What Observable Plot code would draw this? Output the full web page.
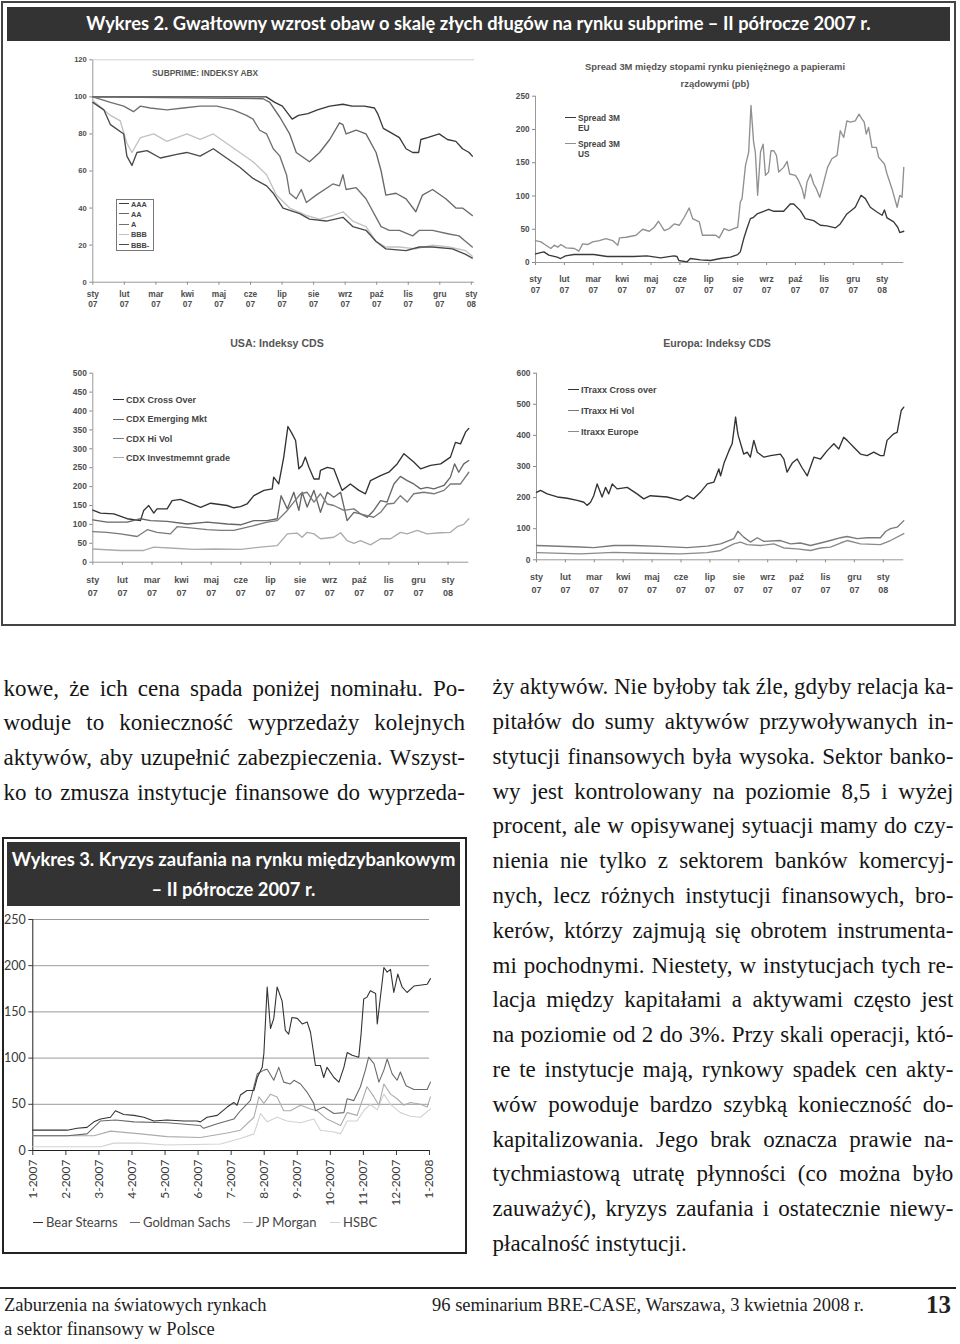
<!DOCTYPE html>
<html><head><meta charset="utf-8">
<script src="https://cdn.jsdelivr.net/npm/d3@7"></script>
<script src="https://cdn.jsdelivr.net/npm/@observablehq/plot@0.6"></script>
<style>
body{margin:0;background:#fff;}
#page{position:relative;width:960px;height:1344px;overflow:hidden;background:#fff;}
.box{position:absolute;box-sizing:border-box;}
.bar{position:absolute;background:#333;color:#fff;font-family:Lato,sans-serif;font-weight:bold;text-align:center;white-space:nowrap;}
.ct{position:absolute;font-family:"Liberation Sans",Arial,sans-serif;font-weight:bold;color:#555;white-space:nowrap;text-align:center;}
.lg{position:absolute;font-family:"Liberation Sans",Arial,sans-serif;font-weight:bold;color:#555;white-space:nowrap;}
.sw{display:inline-block;width:11px;height:0;border-top:1.5px solid;vertical-align:middle;margin-right:2px;position:relative;top:-1px;}
.ln{position:absolute;font-family:"Liberation Serif",serif;font-size:23px;line-height:34.8px;color:#151515;white-space:nowrap;}
.ft{position:absolute;font-family:"Liberation Serif",serif;color:#222;white-space:nowrap;}
.w3lg{position:absolute;font-family:Lato,sans-serif;font-size:13px;color:#444;white-space:nowrap;}
</style></head><body><div id="page"></div>
<script>
// ---------- categories / ticks ----------
const monthTicks = [0,1,2,3,4,5,6,7,8,9,10,11,12];
const monthNames = ["sty","lut","mar","kwi","maj","cze","lip","sie","wrz","paź","lis","gru","sty"];
const monthYears = ["07","07","07","07","07","07","07","07","07","07","07","07","08"];
const w3Labels = ["1-2007","2-2007","3-2007","4-2007","5-2007","6-2007","7-2007","8-2007","9-2007","10-2007","11-2007","12-2007","1-2008"];
const abxTicks = [0,20,40,60,80,100,120];
const spreadTicks = [0,50,100,150,200,250];
const usaTicks = [0,50,100,150,200,250,300,350,400,450,500];
const euTicks = [0,100,200,300,400,500,600];
const w3Ticks = [0,50,100,150,200,250];

// ---------- series: [months since Jan 2007, value] ----------
const abxAAA = [[0,100],[5.5,100],[5.77,97],[6.01,95],[6.32,88],[6.52,90],[6.82,91],[7.12,93],[7.51,95],[7.93,96],[8.22,95],[8.61,95],[8.93,94],[9.03,91],[9.21,83],[9.42,81],[9.72,78],[9.93,72],[10.14,70],[10.33,70],[10.4,77],[10.61,78],[10.98,80],[11.24,77],[11.51,76],[11.72,72],[11.93,70],[12.03,68]];
const abxAA = [[0,100],[5.4,99],[5.61,97],[5.93,89],[6.24,80],[6.45,70],[6.87,65],[7.19,70],[7.51,77],[7.82,86],[7.93,85],[8.03,80],[8.35,82],[8.66,80],[8.98,70],[9.14,60],[9.29,47],[9.61,48],[9.93,45],[10.24,38],[10.45,47],[10.77,50],[11.19,45],[11.51,40],[11.72,40],[12.03,36]];
const abxA = [[0,100],[0.56,97],[0.98,95],[1.29,92],[1.51,95],[1.82,94],[2.35,93],[2.87,94],[3.4,95],[3.93,95],[4.45,93],[4.87,90],[5.08,88],[5.29,82],[5.51,80],[5.72,72],[5.93,68],[6.14,58],[6.24,48],[6.45,45],[6.61,50],[6.77,43],[7.08,47],[7.61,53],[7.82,52],[7.93,58],[8.03,50],[8.35,51],[8.66,45],[8.98,35],[9.14,30],[9.4,28],[9.72,28],[10.14,25],[10.35,28],[10.77,28],[11.29,26],[11.61,25],[11.82,22],[12.03,19]];
const abxBBB = [[0,98],[0.56,90],[0.87,87],[1.08,75],[1.24,70],[1.51,78],[1.93,80],[2.35,76],[2.98,80],[3.4,77],[3.82,80],[4.24,75],[4.66,70],[5.08,65],[5.51,58],[5.82,47],[6.24,40],[6.77,36],[7.19,34],[7.61,36],[7.93,38],[8.24,33],[8.66,30],[8.98,22],[9.29,19],[9.72,19],[10.24,18],[10.77,20],[11.29,19],[11.82,17],[12.03,14]];
const abxBBBm = [[0,97],[0.35,93],[0.56,85],[0.98,80],[1.08,68],[1.24,63],[1.4,70],[1.72,71],[2.14,67],[2.66,69],[2.98,70],[3.4,68],[3.82,72],[4.24,67],[4.66,62],[5.08,56],[5.51,52],[5.72,48],[6.03,40],[6.56,37],[6.87,34],[7.4,33],[7.93,35],[8.24,30],[8.66,28],[8.98,22],[9.29,18],[9.93,17],[10.35,19],[10.77,19],[11.4,18],[11.82,15],[12.03,13]];

const spreadEU = [[0,13],[0.29,16],[0.46,11],[0.75,8],[0.87,6],[1.04,10],[1.33,12],[2.02,12],[2.48,9],[3.4,9],[3.86,10],[4.33,7],[4.79,10],[4.9,9],[4.96,3],[5.25,1],[5.36,6],[5.71,4],[6.06,3],[6.4,6],[6.75,8],[7.0,12],[7.09,16],[7.21,36],[7.32,51],[7.44,66],[7.55,68],[7.67,73],[7.9,77],[8.07,80],[8.25,77],[8.59,77],[8.82,88],[8.94,88],[9.17,78],[9.34,66],[9.63,63],[9.86,56],[10.09,55],[10.38,52],[10.55,58],[10.78,73],[11.07,83],[11.27,101],[11.42,96],[11.59,83],[11.82,76],[12.0,71],[12.08,79],[12.17,67],[12.4,61],[12.54,53],[12.61,45],[12.75,47]];
const spreadUS = [[0,33],[0.19,31],[0.36,26],[0.53,21],[0.65,26],[0.77,23],[0.88,27],[1.06,22],[1.35,21],[1.5,17],[1.63,28],[1.8,27],[1.98,31],[2.21,33],[2.44,36],[2.67,33],[2.85,26],[2.91,37],[3.14,38],[3.48,41],[3.71,50],[3.94,47],[4.11,53],[4.26,62],[4.46,48],[4.63,51],[4.8,58],[4.98,56],[5.15,68],[5.32,82],[5.44,66],[5.67,61],[5.78,41],[6.01,41],[6.24,41],[6.36,37],[6.53,51],[6.7,48],[6.86,51],[7.0,53],[7.09,91],[7.15,96],[7.27,146],[7.38,166],[7.46,236],[7.55,181],[7.61,166],[7.69,101],[7.79,166],[7.88,178],[7.96,131],[8.07,136],[8.15,168],[8.25,168],[8.34,161],[8.42,136],[8.59,143],[8.71,152],[8.8,133],[9.0,131],[9.11,123],[9.23,111],[9.31,96],[9.4,121],[9.52,133],[9.63,118],[9.72,111],[9.84,98],[9.95,116],[10.11,143],[10.26,156],[10.44,161],[10.55,198],[10.67,188],[10.78,213],[10.9,211],[11.07,213],[11.2,223],[11.3,216],[11.38,211],[11.45,193],[11.53,203],[11.65,173],[11.8,173],[11.88,158],[12.08,148],[12.17,133],[12.34,111],[12.52,83],[12.61,101],[12.69,98],[12.75,143]];

const usaCross = [[0,138],[0.26,130],[0.71,128],[1.16,115],[1.61,110],[1.72,137],[1.89,150],[2.06,130],[2.17,141],[2.51,141],[2.68,163],[2.96,166],[3.41,152],[3.64,145],[3.98,156],[4.54,150],[4.76,144],[4.99,147],[5.21,154],[5.44,176],[5.78,190],[6.06,194],[6.11,225],[6.28,207],[6.45,278],[6.59,359],[6.73,340],[6.85,322],[6.96,247],[7.07,256],[7.18,278],[7.3,251],[7.47,220],[7.64,220],[7.69,243],[7.92,251],[8.14,247],[8.25,225],[8.42,190],[8.7,207],[8.99,190],[9.21,181],[9.38,216],[9.72,229],[10.0,238],[10.28,260],[10.51,287],[10.84,265],[11.07,247],[11.41,256],[11.75,260],[12.08,278],[12.25,317],[12.42,313],[12.59,344],[12.7,354]];
const usaEM = [[0,112],[0.48,106],[1.16,106],[1.61,115],[1.95,110],[2.51,108],[3.19,101],[3.86,106],[4.54,101],[4.99,99],[5.44,110],[5.89,110],[6.23,115],[6.36,176],[6.57,141],[6.79,185],[6.96,137],[7.07,185],[7.24,146],[7.47,190],[7.69,132],[7.92,185],[8.14,172],[8.37,185],[8.59,110],[8.82,132],[9.04,128],[9.27,119],[9.49,137],[9.72,163],[9.94,159],[10.17,207],[10.39,227],[10.62,216],[10.84,207],[11.07,194],[11.29,198],[11.52,194],[11.86,203],[12.08,225],[12.22,260],[12.36,238],[12.53,260],[12.7,269]];
const usaHiVol = [[0,81],[0.48,79],[0.93,75],[1.5,68],[1.84,86],[2.17,79],[2.62,75],[2.85,94],[3.3,91],[3.86,86],[4.31,84],[4.76,84],[5.44,97],[5.89,106],[6.23,110],[6.57,137],[6.79,159],[7.02,181],[7.24,185],[7.47,159],[7.69,181],[7.92,154],[8.14,150],[8.48,137],[8.82,141],[9.04,128],[9.27,123],[9.49,119],[9.72,132],[9.94,154],[10.17,156],[10.39,176],[10.62,159],[10.84,181],[11.18,185],[11.52,181],[11.86,190],[12.08,207],[12.42,207],[12.7,238]];
const usaIG = [[0,35],[0.93,31],[1.72,31],[2.06,40],[2.74,37],[3.41,34],[4.09,35],[4.99,34],[5.66,40],[6.23,44],[6.57,75],[6.9,77],[7.07,66],[7.24,79],[7.47,75],[7.69,62],[8.14,66],[8.37,78],[8.59,57],[8.82,50],[9.04,57],[9.38,46],[9.72,62],[10.06,62],[10.39,79],[10.62,75],[10.96,84],[11.29,75],[11.75,78],[12.08,79],[12.31,94],[12.53,100],[12.7,115]];

const euCross = [[0,217],[0.14,223],[0.37,212],[0.72,202],[1.06,198],[1.41,191],[1.64,185],[1.75,175],[1.87,185],[1.98,206],[2.1,244],[2.27,202],[2.39,233],[2.5,212],[2.62,244],[2.79,228],[3.14,233],[3.48,212],[3.71,196],[3.94,206],[4.52,202],[4.98,191],[5.21,206],[5.44,196],[5.67,217],[5.91,244],[6.14,250],[6.31,292],[6.37,270],[6.49,311],[6.66,351],[6.77,373],[6.89,459],[6.95,416],[6.98,400],[7.17,340],[7.29,346],[7.4,330],[7.52,384],[7.64,346],[7.87,330],[8.1,335],[8.44,340],[8.56,324],[8.67,282],[8.85,311],[9.02,324],[9.19,296],[9.37,270],[9.6,330],[9.83,324],[10.06,351],[10.29,373],[10.46,356],[10.63,394],[10.75,384],[10.98,362],[11.21,340],[11.44,335],[11.67,346],[11.9,335],[12.02,335],[12.13,384],[12.36,405],[12.48,410],[12.62,480],[12.71,491]];
const euHiVol = [[0,46],[1.52,41],[1.98,39],[2.68,46],[3.37,46],[4.29,43],[5.21,39],[5.91,44],[6.37,51],[6.83,68],[6.97,92],[7.17,73],[7.4,57],[7.64,71],[7.87,59],[8.44,62],[8.79,51],[9.13,54],[9.48,46],[9.83,54],[10.17,62],[10.52,71],[10.75,75],[11.1,68],[11.44,71],[11.9,71],[12.08,91],[12.25,100],[12.48,105],[12.71,126]];
const euMain = [[0,23],[1.52,19],[2.68,24],[3.83,21],[4.98,19],[5.91,23],[6.37,30],[6.83,51],[7.06,57],[7.29,49],[7.75,46],[8.21,51],[8.56,38],[9.02,35],[9.48,30],[9.83,38],[10.17,41],[10.52,54],[10.75,62],[11.21,51],[11.9,49],[12.25,62],[12.71,84]];

const w3Bear = [[0,22],[1.04,22],[1.34,24],[1.64,25],[1.85,31],[2.05,34],[2.35,36],[2.5,43],[2.75,39],[3.06,38],[3.36,36],[3.66,32],[4.06,33],[4.57,32],[4.97,32],[5.07,31],[5.27,36],[5.58,38],[5.88,47],[6.08,52],[6.18,49],[6.28,60],[6.48,65],[6.69,65],[6.79,79],[6.94,90],[6.99,105],[7.09,177],[7.19,132],[7.29,143],[7.39,177],[7.54,162],[7.64,130],[7.74,126],[7.84,144],[8.0,143],[8.15,137],[8.3,139],[8.4,128],[8.55,92],[8.7,92],[8.8,79],[8.9,90],[9.11,79],[9.26,74],[9.41,90],[9.51,106],[9.66,103],[9.86,101],[9.93,126],[10.01,164],[10.11,166],[10.21,173],[10.37,170],[10.42,137],[10.62,198],[10.72,193],[10.82,196],[10.92,171],[11.04,191],[11.17,177],[11.32,171],[11.53,178],[11.93,180],[12.03,186]];
const w3Goldman = [[0,16],[1.04,16],[1.64,18],[2.05,32],[2.5,33],[3.06,31],[4.06,30],[5.07,27],[5.17,24],[5.58,29],[6.08,34],[6.28,43],[6.58,54],[6.79,83],[6.99,87],[7.09,88],[7.29,76],[7.44,90],[7.59,74],[7.79,72],[7.9,76],[8.1,72],[8.3,63],[8.5,51],[8.55,43],[8.8,47],[9.11,40],[9.41,41],[9.51,56],[9.71,54],[9.91,69],[10.06,87],[10.16,101],[10.32,94],[10.47,74],[10.62,87],[10.72,99],[10.87,83],[11.02,76],[11.12,85],[11.29,70],[11.53,66],[11.93,66],[12.03,74]];
const w3JPM = [[0,16],[1.85,16],[2.35,21],[3.26,18],[4.06,15],[5.07,14],[5.88,19],[6.28,22],[6.69,36],[6.84,58],[6.99,51],[7.19,61],[7.39,58],[7.59,43],[7.79,43],[8.1,49],[8.4,45],[8.6,43],[8.9,34],[9.31,27],[9.51,41],[9.81,38],[10.11,69],[10.32,58],[10.47,49],[10.62,72],[10.82,61],[11.02,56],[11.22,49],[11.42,52],[11.73,50],[11.93,47],[12.03,58]];
const w3HSBC = [[0,4],[2.05,4],[2.45,8],[3.26,8],[4.06,6],[5.68,7],[6.28,13],[6.69,18],[6.89,40],[7.09,31],[7.39,36],[7.69,32],[8.1,30],[8.5,34],[8.7,22],[9.11,20],[9.31,18],[9.51,32],[9.81,32],[10.01,43],[10.21,50],[10.42,44],[10.62,61],[10.82,50],[11.12,41],[11.42,37],[11.73,36],[12.03,45]];

// ---------- names & colours ----------
const abxNames = ["AAA","AA","A","BBB","BBB-"];
const abxColors = ["#3a3a3a","#686868","#707070","#c2c2c2","#4a4a4a"];
const spreadColors = ["#3a3a3a","#909090"];
const usaNames = ["CDX Cross Over","CDX Emerging Mkt","CDX Hi Vol","CDX Investmemnt grade"];
const usaColors = ["#333","#666","#7a7a7a","#ababab"];
const euNames = ["ITraxx Cross over","ITraxx Hi Vol","Itraxx Europe"];
const euColors = ["#333","#7a7a7a","#8a8a8a"];
const w3Names = ["Bear Stearns","Goldman Sachs","JP Morgan","HSBC"];
const w3Colors = ["#333","#6a6a6a","#ababab","#d2d2d2"];

const leftLines = [
 "kowe, że ich cena spada poniżej nominału. Po-",
 "woduje to konieczność wyprzedaży kolejnych",
 "aktywów, aby uzupełnić zabezpieczenia. Wszyst-",
 "ko to zmusza instytucje finansowe do wyprzeda-"];
const rightLines = [
 "ży aktywów. Nie byłoby tak źle, gdyby relacja ka-",
 "pitałów do sumy aktywów przywoływanych in-",
 "stytucji finansowych była wysoka. Sektor banko-",
 "wy jest kontrolowany na poziomie 8,5 i wyżej",
 "procent, ale w opisywanej sytuacji mamy do czy-",
 "nienia nie tylko z sektorem banków komercyj-",
 "nych, lecz różnych instytucji finansowych, bro-",
 "kerów, którzy zajmują się obrotem instrumenta-",
 "mi pochodnymi. Niestety, w instytucjach tych re-",
 "lacja między kapitałami a aktywami często jest",
 "na poziomie od 2 do 3%. Przy skali operacji, któ-",
 "re te instytucje mają, rynkowy spadek cen akty-",
 "wów powoduje bardzo szybką konieczność do-",
 "kapitalizowania. Jego brak oznacza prawie na-",
 "tychmiastową utratę płynności (co można było",
 "zauważyć), kryzys zaufania i ostatecznie niewy-",
 "płacalność instytucji."];

// ---------- page helpers ----------
const page = document.getElementById("page");
function el(cls, css, html){ const d=document.createElement("div"); d.className=cls; d.style.cssText=css; if(html!==undefined) d.innerHTML=html; page.appendChild(d); return d; }
function place(svg,left,top){ svg.style.position="absolute"; svg.style.left=left+"px"; svg.style.top=top+"px"; svg.style.background="transparent"; page.appendChild(svg); }

// ---------- frames ----------
el("box","left:1px;top:1px;width:955px;height:625px;border:2px solid #444;");
el("bar","left:7px;top:7px;width:943px;height:34px;line-height:33px;font-size:18.3px;",
   "Wykres 2. Gwałtowny wzrost obaw o skalę złych długów na rynku subprime – II półrocze 2007 r.");

// ---------- top charts ----------
function topChart(o){
  const marks = [
    Plot.axisY({ticks:o.yTicks, tickSize:3, tickPadding:3, fontSize:o.yFont, stroke:"#888", label:null}),
    Plot.axisX({ticks:monthTicks, tickSize:3, tickPadding:o.xPad, lineHeight:o.lh, fontSize:o.xFont,
      tickFormat:i=>monthNames[i]+"\n"+monthYears[i], stroke:"#888", label:null}),
    Plot.ruleY([o.yTicks[0]], {stroke:"#999"}),
    Plot.ruleX([monthTicks[0]], {stroke:"#999"})
  ];
  if(o.topRule) marks.push(Plot.ruleY([o.yTicks[o.yTicks.length-1]], {stroke:"#d0d0d0"}));
  o.series.forEach((s,i)=>marks.push(Plot.line(s,{x:d=>d[0],y:d=>d[1],stroke:o.colors[i],strokeWidth:1.35})));
  const svg = Plot.plot({
    width:o.w, height:o.h, marginLeft:o.ml, marginRight:o.mr, marginTop:o.mt, marginBottom:o.mb,
    style:{fontFamily:"'Liberation Sans', Arial, sans-serif", fontWeight:"bold", color:"#4e4e4e", background:"transparent"},
    x:{domain:[monthTicks[0], o.xMax]},
    y:{domain:[o.yTicks[0], o.yTicks[o.yTicks.length-1]]},
    marks
  });
  place(svg,o.left,o.top);
}

topChart({left:40, top:48, w:440, h:268, ml:52.3, mr:6, mt:11.3, mb:34.3, xMax:12.1,
  yTicks:abxTicks, yFont:7.6, xFont:8.4, xPad:5, lh:1.2, topRule:true,
  series:[abxAAA,abxAA,abxA,abxBBB,abxBBBm], colors:abxColors});
topChart({left:490, top:88, w:420, h:225, ml:45, mr:6.7, mt:7.7, mb:51, xMax:12.75,
  yTicks:spreadTicks, yFont:8.2, xFont:8.6, xPad:8, lh:1.35,
  series:[spreadEU,spreadUS], colors:spreadColors});
topChart({left:40, top:365, w:440, h:240, ml:52.3, mr:11.7, mt:7.7, mb:43.3, xMax:12.7,
  yTicks:usaTicks, yFont:8.4, xFont:9, xPad:8, lh:1.5,
  series:[usaCross,usaEM,usaHiVol,usaIG], colors:usaColors});
topChart({left:490, top:365, w:420, h:240, ml:46, mr:6.7, mt:7.7, mb:45.7, xMax:12.71,
  yTicks:euTicks, yFont:8.4, xFont:9, xPad:9, lh:1.35,
  series:[euCross,euHiVol,euMain], colors:euColors});

// chart titles
el("ct","left:152px;top:68px;font-size:8.4px;text-align:left;","SUBPRIME: INDEKSY ABX");
el("ct","left:560px;top:58px;width:310px;font-size:9.4px;line-height:17px;","Spread 3M między stopami rynku pieniężnego a papierami<br>rządowymi (pb)");
el("ct","left:177px;top:337px;width:200px;font-size:10.6px;","USA: Indeksy CDS");
el("ct","left:617px;top:337px;width:200px;font-size:10.6px;","Europa: Indeksy CDS");

// legends
el("box","left:116px;top:199px;width:38px;height:52px;border:1px solid #777;background:#fff;");
abxNames.forEach((n,i)=>el("lg",`left:119px;top:${199.5+i*10.3}px;font-size:7.3px;line-height:10px;color:#444;`,
  `<span class="sw" style="border-color:${abxColors[i]};width:10px;"></span>${n}`));
[["Spread 3M","EU"],["Spread 3M","US"]].forEach((p,i)=>el("lg",`left:565px;top:${113+i*26}px;font-size:8.3px;line-height:10px;color:#444;`,
  `<span class="sw" style="border-color:${spreadColors[i]};width:11px;"></span>${p[0]}<br><span style="padding-left:13px">${p[1]}</span>`));
usaNames.forEach((n,i)=>el("lg",`left:113px;top:${394+i*19.4}px;font-size:9px;line-height:12px;color:#444;`,
  `<span class="sw" style="border-color:${usaColors[i]};"></span>${n}`));
euNames.forEach((n,i)=>el("lg",`left:568px;top:${384+i*21}px;font-size:9px;line-height:12px;color:#444;`,
  `<span class="sw" style="border-color:${euColors[i]};"></span>${n}`));

// ---------- body text ----------
function textLines(lines,left,width,top,lastFree){
  lines.forEach((t,i)=>{
    const d = el("ln",`left:${left}px;top:${top+i*34.8}px;`);
    const s = document.createElement("span"); s.textContent=t; d.appendChild(s);
    if(lastFree && i===lines.length-1) return;
    const nat = s.getBoundingClientRect().width;
    const sp = (t.match(/ /g)||[]).length;
    if(sp>0) d.style.wordSpacing = ((width-nat)/sp)+"px";
  });
}
textLines(leftLines,3.5,461.5,671.5,false);
textLines(rightLines,492.5,460.8,670.2,true);

// ---------- Wykres 3 ----------
el("box","left:2px;top:837px;width:465px;height:417px;border:2px solid #222;");
el("bar","left:7px;top:842px;width:453px;height:64px;font-size:18.4px;line-height:30px;padding-top:2px;box-sizing:border-box;",
   "Wykres 3. Kryzys zaufania na rynku międzybankowym<br>– II półrocze 2007 r.");
{
  const marks = [
    Plot.ruleY(w3Ticks.slice(1), {stroke:"#9a9a9a"}),
    Plot.axisY({ticks:w3Ticks, tickSize:4, tickPadding:3, fontSize:12.5, label:null}),
    Plot.axisX({ticks:monthTicks, tickFormat:i=>w3Labels[i], tickRotate:-90, tickSize:5, tickPadding:4, fontSize:12, label:null}),
    Plot.ruleX([monthTicks[0]], {stroke:"#222"}),
    Plot.ruleY([w3Ticks[0]], {stroke:"#222"})
  ];
  [w3HSBC,w3JPM,w3Goldman,w3Bear].forEach((s,k)=>{
    const i = 3-k;
    marks.push(Plot.line(s,{x:d=>d[0],y:d=>d[1],stroke:w3Colors[i],strokeWidth:1.1}));
  });
  const svg = Plot.plot({
    width:462, height:300, marginLeft:30.3, marginRight:35, marginTop:9, marginBottom:60,
    style:{fontFamily:"Lato, sans-serif", color:"#3a3a3a", background:"transparent"},
    x:{domain:[monthTicks[0], monthTicks[12]]},
    y:{domain:[w3Ticks[0], w3Ticks[w3Ticks.length-1]]},
    marks
  });
  place(svg,2,910);
}
const w3LegX = [33,130,243,330];
w3Names.forEach((n,i)=>el("w3lg",`left:${w3LegX[i]}px;top:1213px;line-height:18px;`,
  `<span class="sw" style="border-color:${w3Colors[i]};width:10px;border-top-width:1.3px;margin-right:3px;"></span>${n}`));

// ---------- footer ----------
el("box","left:0px;top:1287px;width:956px;height:2px;background:#222;");
el("ft","left:4px;top:1296px;font-size:18.5px;line-height:19px;","Zaburzenia na światowych rynkach");
el("ft","left:4px;top:1320px;font-size:18.5px;line-height:19px;","a sektor finansowy w Polsce");
el("ft","left:432px;top:1296px;font-size:18.5px;line-height:19px;","96 seminarium BRE-CASE, Warszawa, 3 kwietnia 2008 r.");
el("ft","left:926px;top:1292px;font-size:25px;line-height:26px;font-weight:bold;","13");
</script></body></html>
